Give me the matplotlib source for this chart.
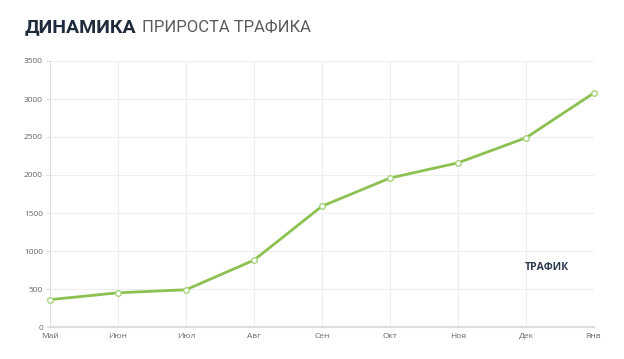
import matplotlib
matplotlib.use('Agg')
import matplotlib.pyplot as plt

# data
months = ['Май', 'Июн', 'Июл', 'Авг', 'Сен', 'Окт', 'Ноя', 'Дек', 'Янв']
traffic = [360, 450, 490, 880, 1590, 1960, 2160, 2490, 3080]
y_ticks = [0, 500, 1000, 1500, 2000, 2500, 3000, 3500]

plt.rcParams['font.family'] = ['Open Sans', 'DejaVu Sans']

W, H = 624, 359
fig = plt.figure(figsize=(W / 100, H / 100), dpi=100)
ax = fig.add_axes([50 / W, (H - 327) / H, (594 - 50) / W, (327 - 61) / H])

x = list(range(len(months)))
ax.plot(x, traffic, color='#8cc152', lw=2, marker='o', ms=4,
        mfc='white', mec='#a5d47a', mew=1, zorder=3, clip_on=False)

ax.set_xlim(0, len(months) - 1)
ax.set_ylim(0, 3500)
ax.set_xticks(x)
ax.set_xticklabels(months)
ax.set_yticks(y_ticks)
ax.grid(True, color='#eeeeee', lw=0.8)
ax.set_axisbelow(True)

for s in ['top', 'right']:
    ax.spines[s].set_visible(False)
ax.spines['left'].set_color('#dddddd')
ax.spines['bottom'].set_color('#dddddd')
ax.spines['bottom'].set_linewidth(1.5)
ax.tick_params(axis='both', colors='#dddddd', labelcolor='#666666',
               labelsize=6, length=3, width=0.8, pad=2)
ax.tick_params(axis='x', length=0, pad=4)

# title in two parts: bold + light, second one placed right after the first
t1 = fig.text(25 / W, 1 - 32 / H, 'ДИНАМИКА', fontsize=14, fontweight='bold',
              family=['Roboto', 'DejaVu Sans'], color='#1f2b3d',
              va='baseline', ha='left')
fig.canvas.draw()
bb = t1.get_window_extent()
fig.text((bb.x1 + 5) / W, 1 - 32 / H, 'ПРИРОСТА ТРАФИКА', fontsize=12,
         family=['Roboto', 'DejaVu Sans'],
         color='#5a5a5a', va='baseline', ha='left')

fig.text(547 / W, 1 - 267 / H, 'ТРАФИК', fontsize=7.5, fontweight='bold',
         color='#2c3a4f', va='center', ha='center')

fig.savefig('out.png', dpi=100)
